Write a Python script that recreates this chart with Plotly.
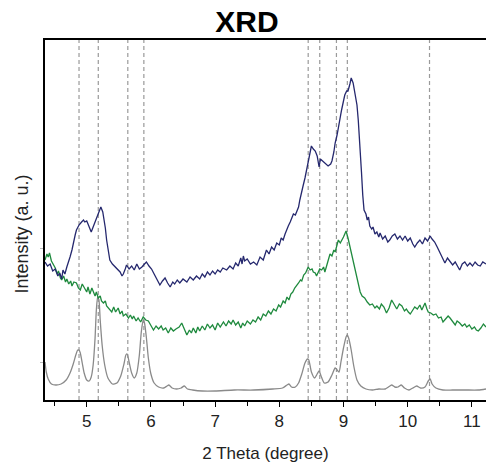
import plotly.graph_objects as go

# 2-theta positions of the reference reflections (dashed guides)
REFLECTIONS = [4.88, 5.18, 5.64, 5.89, 8.45, 8.63, 8.89, 9.06, 10.34]

# Measured pattern, sample A (top, navy): (2theta, intensity)
SAMPLE_A = [
    (4.35, 138), (4.39, 134), (4.43, 136), (4.47, 129), (4.51, 131), (4.55, 124), (4.58, 127),
    (4.61, 121), (4.63, 130), (4.66, 126), (4.69, 133), (4.72, 138), (4.74, 143), (4.77, 150),
    (4.79, 157), (4.82, 165), (4.84, 170), (4.88, 175), (4.92, 178), (4.95, 180), (4.97, 178),
    (5.00, 179), (5.02, 176), (5.05, 172), (5.07, 168), (5.10, 173), (5.13, 178), (5.16, 185),
    (5.19, 188), (5.22, 193), (5.25, 188), (5.27, 181), (5.29, 172), (5.31, 160), (5.34, 148),
    (5.36, 140), (5.40, 136), (5.44, 133), (5.48, 130), (5.52, 128), (5.55, 124), (5.57, 126),
    (5.60, 131), (5.62, 135), (5.66, 131), (5.70, 134), (5.74, 130), (5.78, 136), (5.82, 131),
    (5.86, 133), (5.90, 136), (5.93, 138), (5.97, 134), (6.01, 131), (6.05, 126), (6.09, 121),
    (6.12, 118), (6.14, 115), (6.18, 119), (6.22, 122), (6.26, 117), (6.30, 113), (6.34, 118),
    (6.37, 116), (6.41, 120), (6.45, 117), (6.50, 121), (6.56, 118), (6.61, 123), (6.66, 120),
    (6.71, 124), (6.76, 121), (6.80, 126), (6.84, 123), (6.88, 128), (6.92, 125), (6.96, 129),
    (7.00, 126), (7.04, 130), (7.08, 128), (7.12, 132), (7.18, 130), (7.23, 134), (7.28, 131),
    (7.32, 137), (7.36, 134), (7.40, 142), (7.42, 136), (7.44, 144), (7.46, 139), (7.50, 141),
    (7.55, 136), (7.60, 138), (7.65, 135), (7.70, 143), (7.75, 140), (7.80, 150), (7.84, 146),
    (7.88, 153), (7.92, 150), (7.96, 157), (8.00, 155), (8.03, 162), (8.06, 160), (8.09, 166),
    (8.11, 170), (8.14, 174), (8.17, 178), (8.20, 183), (8.22, 186), (8.25, 185), (8.27, 189),
    (8.30, 193), (8.32, 200), (8.35, 207), (8.37, 214), (8.40, 222), (8.43, 232), (8.45, 238),
    (8.47, 245), (8.50, 254), (8.53, 251), (8.56, 249), (8.59, 244), (8.62, 233), (8.64, 241),
    (8.67, 239), (8.71, 237), (8.76, 234), (8.80, 236), (8.82, 239), (8.85, 248), (8.87, 257),
    (8.90, 265), (8.92, 273), (8.95, 282), (8.97, 290), (9.00, 299), (9.02, 305), (9.05, 309),
    (9.07, 309), (9.10, 316), (9.12, 322), (9.15, 317), (9.18, 305), (9.21, 295), (9.23, 280),
    (9.25, 262), (9.28, 228), (9.30, 205), (9.32, 190), (9.35, 186), (9.37, 180), (9.39, 183),
    (9.41, 174), (9.44, 171), (9.46, 173), (9.49, 166), (9.52, 168), (9.55, 163), (9.57, 167),
    (9.61, 161), (9.65, 164), (9.69, 158), (9.72, 160), (9.76, 164), (9.80, 166), (9.84, 161),
    (9.88, 164), (9.92, 160), (9.96, 164), (10.00, 159), (10.04, 162), (10.08, 156), (10.11, 153),
    (10.15, 157), (10.19, 160), (10.23, 156), (10.27, 162), (10.31, 159), (10.35, 164), (10.38, 161),
    (10.42, 158), (10.46, 153), (10.50, 148), (10.54, 143), (10.58, 137), (10.62, 142), (10.66, 139),
    (10.70, 135), (10.74, 138), (10.78, 134), (10.81, 130), (10.85, 136), (10.89, 138), (10.93, 134),
    (10.97, 137), (11.01, 134), (11.05, 138), (11.09, 135), (11.13, 134), (11.17, 138), (11.22, 136),
]

# Measured pattern, sample B (middle, green)
SAMPLE_B = [
    (4.35, 140), (4.38, 146), (4.40, 143), (4.42, 147), (4.45, 139), (4.48, 135), (4.51, 132),
    (4.54, 126), (4.56, 129), (4.59, 122), (4.61, 120), (4.64, 124), (4.67, 118), (4.69, 121),
    (4.72, 116), (4.75, 119), (4.77, 114), (4.80, 118), (4.84, 117), (4.87, 112), (4.90, 110),
    (4.93, 116), (4.97, 112), (5.00, 108), (5.02, 113), (5.05, 106), (5.08, 112), (5.10, 109),
    (5.13, 104), (5.15, 108), (5.18, 102), (5.21, 104), (5.23, 99), (5.26, 97), (5.29, 99),
    (5.31, 94), (5.34, 92), (5.37, 89), (5.39, 88), (5.42, 93), (5.45, 88), (5.49, 92),
    (5.52, 86), (5.55, 89), (5.57, 84), (5.61, 86), (5.65, 82), (5.68, 85), (5.71, 81),
    (5.73, 84), (5.77, 79), (5.80, 82), (5.84, 78), (5.88, 83), (5.92, 80), (5.96, 79),
    (6.00, 74), (6.04, 70), (6.08, 74), (6.12, 71), (6.16, 74), (6.19, 70), (6.23, 72),
    (6.27, 67), (6.31, 72), (6.35, 69), (6.39, 71), (6.44, 73), (6.48, 77), (6.52, 70),
    (6.56, 65), (6.60, 70), (6.63, 67), (6.66, 72), (6.70, 67), (6.73, 73), (6.76, 69),
    (6.80, 74), (6.84, 70), (6.88, 76), (6.92, 72), (6.96, 75), (7.00, 70), (7.04, 77),
    (7.08, 73), (7.13, 78), (7.17, 74), (7.21, 79), (7.25, 76), (7.28, 80), (7.32, 75),
    (7.36, 78), (7.40, 72), (7.43, 77), (7.46, 74), (7.50, 79), (7.55, 76), (7.59, 80),
    (7.63, 78), (7.67, 83), (7.71, 80), (7.75, 86), (7.79, 84), (7.83, 89), (7.87, 86),
    (7.91, 91), (7.95, 89), (7.99, 95), (8.02, 93), (8.06, 99), (8.09, 97), (8.12, 103),
    (8.15, 100), (8.18, 106), (8.21, 108), (8.24, 112), (8.27, 114), (8.30, 117), (8.33, 120),
    (8.35, 119), (8.38, 125), (8.41, 127), (8.43, 130), (8.45, 133), (8.48, 130), (8.51, 131),
    (8.53, 128), (8.56, 127), (8.58, 124), (8.61, 129), (8.63, 131), (8.66, 130), (8.69, 133),
    (8.71, 128), (8.74, 135), (8.77, 142), (8.79, 146), (8.82, 144), (8.85, 150), (8.87, 148),
    (8.90, 156), (8.92, 160), (8.95, 157), (8.97, 159), (9.00, 163), (9.02, 166), (9.04, 169),
    (9.07, 162), (9.10, 153), (9.12, 148), (9.15, 140), (9.18, 130), (9.21, 120), (9.24, 112),
    (9.26, 108), (9.29, 104), (9.33, 102), (9.37, 98), (9.41, 95), (9.45, 96), (9.49, 92),
    (9.52, 94), (9.56, 91), (9.59, 96), (9.63, 93), (9.67, 87), (9.71, 92), (9.75, 100),
    (9.79, 96), (9.83, 91), (9.87, 96), (9.91, 94), (9.95, 89), (9.98, 91), (10.01, 88),
    (10.04, 86), (10.08, 90), (10.11, 93), (10.15, 91), (10.19, 95), (10.22, 90), (10.24, 93),
    (10.27, 97), (10.30, 91), (10.32, 88), (10.36, 87), (10.40, 85), (10.44, 86), (10.48, 82),
    (10.52, 83), (10.55, 78), (10.59, 81), (10.63, 84), (10.66, 82), (10.70, 79), (10.74, 75),
    (10.77, 79), (10.81, 77), (10.85, 74), (10.89, 76), (10.92, 73), (10.96, 75), (11.00, 71),
    (11.04, 73), (11.07, 70), (11.10, 69), (11.14, 72), (11.18, 76), (11.22, 73),
]

# Simulated pattern (bottom, gray)
SIMULATED = [
    (4.35, 38), (4.37, 28), (4.40, 21), (4.45, 16), (4.52, 15), (4.60, 16), (4.68, 20),
    (4.74, 27), (4.79, 36), (4.83, 45), (4.86, 50), (4.88, 50), (4.90, 47), (4.93, 37),
    (4.96, 27), (5.00, 20), (5.04, 19), (5.07, 23), (5.10, 35), (5.13, 62), (5.15, 90),
    (5.17, 103), (5.19, 100), (5.21, 80), (5.24, 55), (5.28, 35), (5.33, 22), (5.40, 16),
    (5.47, 17), (5.53, 24), (5.58, 36), (5.61, 45), (5.63, 46), (5.66, 38), (5.70, 27),
    (5.74, 22), (5.78, 27), (5.82, 45), (5.85, 68), (5.88, 80), (5.90, 77), (5.93, 62),
    (5.96, 42), (6.00, 26), (6.05, 17), (6.12, 13), (6.20, 12), (6.25, 14), (6.28, 15),
    (6.33, 12), (6.40, 11), (6.47, 12), (6.52, 14), (6.57, 11), (6.65, 10), (6.80, 9),
    (7.00, 9), (7.30, 10), (7.60, 10), (7.90, 11), (8.05, 12), (8.12, 15), (8.15, 16),
    (8.19, 13), (8.25, 13), (8.30, 17), (8.35, 26), (8.40, 37), (8.44, 41), (8.46, 40),
    (8.50, 28), (8.55, 22), (8.59, 26), (8.62, 29), (8.65, 24), (8.70, 17), (8.76, 18),
    (8.82, 25), (8.87, 32), (8.89, 31), (8.93, 28), (8.96, 38), (9.00, 52), (9.04, 63),
    (9.06, 65), (9.08, 62), (9.12, 50), (9.16, 34), (9.21, 20), (9.27, 14), (9.35, 11),
    (9.45, 10), (9.55, 11), (9.65, 11), (9.70, 13), (9.75, 15), (9.80, 13), (9.85, 13),
    (9.90, 15), (9.95, 12), (10.02, 10), (10.08, 12), (10.14, 14), (10.20, 12), (10.27, 13),
    (10.32, 19), (10.35, 21), (10.38, 16), (10.44, 12), (10.55, 10), (10.70, 10), (10.90, 10),
    (11.10, 10), (11.22, 11),
]

X_TICKS = [5, 6, 7, 8, 9, 10, 11]

FONT = "Liberation Sans, Arial, sans-serif"

fig = go.Figure()

for data, color, width, shape in [
    (SIMULATED, "#8a8a8a", 1.3, "spline"),
    (SAMPLE_B, "#1f8a3e", 1.3, "linear"),
    (SAMPLE_A, "#25286e", 1.3, "linear"),
]:
    xs, ys = zip(*data)
    fig.add_trace(go.Scatter(
        x=list(xs), y=list(ys), mode="lines",
        line=dict(color=color, width=width, shape=shape, smoothing=0.6),
        showlegend=False, hoverinfo="skip",
    ))

for pos in REFLECTIONS:
    fig.add_shape(
        type="line", xref="x", yref="paper", x0=pos, x1=pos, y0=0, y1=1,
        line=dict(color="#9a9a9a", width=1.2, dash="4px,3px"), layer="below",
    )

# vertical axis title, placed slightly below the plot's mid-height
fig.add_annotation(
    text="Intensity (a. u.)", textangle=-90, xref="paper", yref="paper",
    x=-0.052, y=0.46, xanchor="center", yanchor="middle", showarrow=False,
    font=dict(family=FONT, size=18, color="#222"),
)

fig.update_layout(
    width=486, height=463,
    margin=dict(l=45, r=0, t=40, b=63),
    paper_bgcolor="white", plot_bgcolor="white",
    font=dict(family=FONT, color="#222222", size=17),
    title=dict(text="<b>XRD</b>", x=0.508, xanchor="center", y=0.953, yanchor="middle",
               font=dict(family=FONT, size=30, color="#000000")),
    showlegend=False,
)

fig.update_xaxes(
    range=[4.35, 11.22], tickmode="array", tickvals=X_TICKS,
    ticks="outside", ticklen=5, tickwidth=1.3, tickcolor="#000",
    minor=dict(dtick=0.5, ticks="outside", ticklen=4, tickwidth=1.2, tickcolor="#000"),
    showline=True, linecolor="#000", linewidth=2, mirror=True,
    showgrid=False, zeroline=False,
    tickfont=dict(size=17, color="#222"),
    title=dict(text="2 Theta (degree)", font=dict(size=17, color="#222"), standoff=18),
)

fig.update_yaxes(
    range=[0, 360], tickmode="array", tickvals=[38, 152], showticklabels=False,
    ticks="outside", ticklen=3, tickwidth=1, tickcolor="#bbbbbb",
    showline=True, linecolor="#000", linewidth=2, mirror=False,
    showgrid=False, zeroline=False,
)

fig.write_html("out.html")
